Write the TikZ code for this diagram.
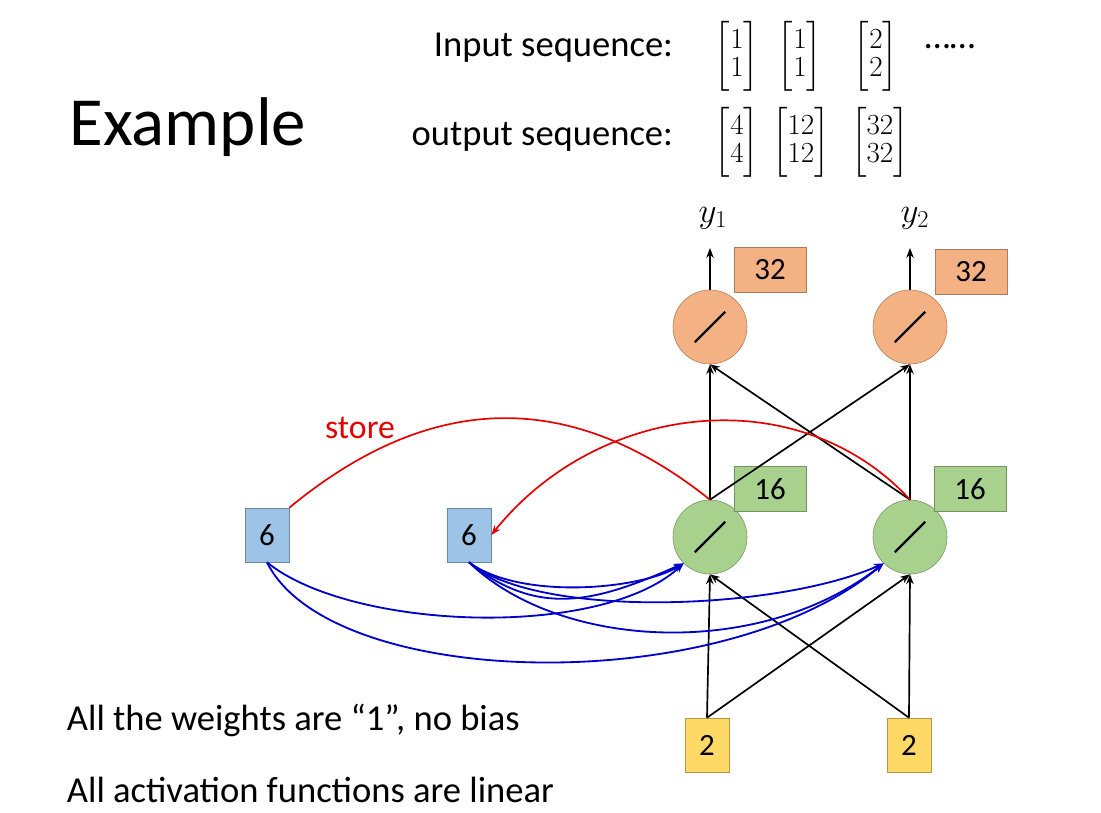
\documentclass[tikz,border=0pt]{standalone}
\usepackage{amsmath}
\usepackage{fontspec}
\setmainfont{Carlito}
\usetikzlibrary{arrows.meta}
\begin{document}
\begin{tikzpicture}[x=0.025cm,y=-0.025cm,
  txt/.style={font=\fontsize{26}{30}\selectfont},
  mat/.style={font=\fontsize{20}{24}\selectfont,inner sep=0pt},
  nb/.style={draw=#1!70!black,fill=#1,minimum width=1.1cm,minimum height=1.35cm,font=\fontsize{22}{26}\selectfont,inner sep=0pt},
  wb/.style={draw=#1!70!black,fill=#1,minimum width=1.8cm,minimum height=1.12cm,font=\fontsize{22}{26}\selectfont,inner sep=0pt},
  neu/.style={circle,draw=#1!70!black,fill=#1,minimum size=1.85cm,inner sep=0pt,path picture={\draw[draw=black,line width=1.6pt] ([shift={(-0.38cm,-0.38cm)}]path picture bounding box.center)--([shift={(0.38cm,0.38cm)}]path picture bounding box.center);}},
  ar/.style={-{Stealth[length=7pt]},line width=1.2pt},
  red/.style={draw=red!90!black,line width=1.2pt},
  blu/.style={-{Stealth[length=7pt]},draw=blue!80!black,line width=1.3pt}]
\definecolor{org}{HTML}{F4B183}
\definecolor{grn}{HTML}{A9D18E}
\definecolor{blb}{HTML}{9DC3E6}
\definecolor{yel}{HTML}{FFD966}
\useasboundingbox (0,0) rectangle (1101,812);
\node[font=\fontsize{49}{56}\selectfont] (ex) at (188,127) {Example};
\node[txt,anchor=east] (is) at (678,48) {Input sequence:};
\node[txt,anchor=east] (os) at (678,137) {output sequence:};
\node[mat] (m1) at (737,56) {$\begin{bmatrix}1\\[-4pt]1\end{bmatrix}$};
\node[mat] (m2) at (800,56) {$\begin{bmatrix}1\\[-4pt]1\end{bmatrix}$};
\node[mat] (m3) at (876,56) {$\begin{bmatrix}2\\[-4pt]2\end{bmatrix}$};
\node[txt] (dots) at (950,47) {……};
\node[mat] (n1) at (737,142) {$\begin{bmatrix}4\\[-4pt]4\end{bmatrix}$};
\node[mat] (n2) at (801,142) {$\begin{bmatrix}12\\[-4pt]12\end{bmatrix}$};
\node[mat] (n3) at (880,142) {$\begin{bmatrix}32\\[-4pt]32\end{bmatrix}$};

\node[neu=org] (o1) at (710,327) {};
\node[neu=org] (o2) at (910,327) {};
\node[neu=grn] (g1) at (710,537) {};
\node[neu=grn] (g2) at (910,537) {};
\node[wb=org] (w1) at (770,270) {32};
\node[wb=org] (w2) at (971,272) {32};
\node[wb=grn] (v1) at (770,489) {16};
\node[wb=grn] (v2) at (970,489) {16};
\node[nb=blb] (b1) at (267,535) {6};
\node[nb=blb] (b2) at (469,535) {6};
\node[nb=yel] (x1) at (707,745) {2};
\node[nb=yel] (x2) at (909,745) {2};
\node[font=\fontsize{24}{26}\selectfont] (y1) at (713,218) {$y_1$};
\node[font=\fontsize{24}{26}\selectfont] (y2) at (915,218) {$y_2$};
\coordinate (t1) at (710,248);
\coordinate (t2) at (910,248);
\draw[ar] (o1.north) -- (t1);
\draw[ar] (o2.north) -- (t2);

\draw[ar] (x1.north) -- (g1.south);
\draw[ar] (x2.north) -- (g2.south);
\draw[ar] (x1.north) -- (g2.south);
\draw[ar] (x2.north) -- (g1.south);
\draw[ar] (g1.north) -- (o1.south);
\draw[ar] (g2.north) -- (o2.south);
\draw[ar] (g1.north) -- (o2.south);
\draw[ar] (g2.north) -- (o1.south);

\draw[red] (b1.north east) .. controls (420,400) and (560,380) .. (g1.north);
\draw[red,-{Stealth[length=7pt]}] (g2.north) .. controls (800,380) and (600,400) .. (b2.east);
\node[font=\fontsize{24}{28}\selectfont,text=red!90!black] (st) at (360,428) {store};

\draw[blu] (b1.south) .. controls (350,630) and (600,640) .. (g1.south west);
\draw[blu] (b1.south) .. controls (330,690) and (720,700) .. (g2.south west);
\draw[blu] (b2.south) .. controls (540,620) and (600,600) .. (g1.south west);
\draw[blu] (b2.south) .. controls (560,650) and (760,660) .. (g2.south west);
\draw[blu] (b2.south) .. controls (520,600) and (640,590) .. (g1.south west);
\draw[blu] (b2.south) .. controls (540,620) and (780,610) .. (g2.south west);

\node[txt,anchor=west] (l1) at (62,720) {All the weights are “1”, no bias};
\node[txt,anchor=west] (l2) at (62,790) {All activation functions are linear};
\end{tikzpicture}
\end{document}
